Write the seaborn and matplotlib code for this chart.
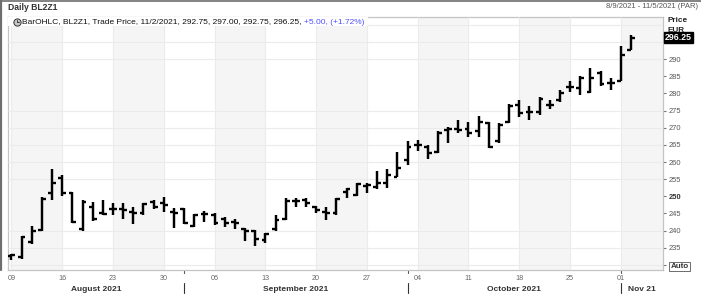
import numpy as np
import pandas as pd
import matplotlib
matplotlib.use("Agg")
import matplotlib.pyplot as plt
import seaborn as sns
from matplotlib.transforms import blended_transform_factory as btf
from matplotlib.lines import Line2D
from matplotlib.patches import Rectangle

# ---------------- data ----------------
dates = pd.bdate_range("2021-08-09", "2021-11-02")
opens = [232.5, 232.25, 236.75, 240.25, 251.0, 255.25, 251.0, 240.5, 247.0, 245.0,
         246.25, 246.25, 245.5, 245.0, 248.25, 248.0, 245.5, 246.25, 241.25, 244.75,
         244.5, 243.25, 242.5, 240.5, 239.75, 237.25, 240.5, 243.25, 248.5, 249.0,
         246.75, 245.5, 245.0, 251.25, 250.5, 253.0, 252.75, 254.0, 255.75, 260.5,
         265.0, 264.5, 263.0, 269.25, 269.5, 269.5, 269.0, 271.5, 266.0, 271.75,
         276.75, 274.5, 274.5, 276.75, 278.0, 282.0, 281.5, 280.5, 286.0, 283.0,
         283.75, 292.75]
highs = [233.25, 238.5, 241.25, 249.75, 258.0, 256.25, 251.25, 249.0, 248.25, 249.0,
         248.0, 248.0, 247.0, 248.0, 249.0, 249.75, 246.5, 246.5, 244.75, 245.75,
         245.0, 244.0, 243.25, 240.75, 240.25, 239.25, 244.5, 249.5, 249.5, 249.5,
         247.25, 246.75, 249.5, 252.5, 253.75, 253.75, 257.25, 258.0, 263.0, 266.0,
         266.5, 265.0, 269.0, 270.25, 272.25, 271.75, 273.5, 271.75, 271.25, 277.0,
         278.0, 276.25, 279.0, 278.0, 281.0, 283.5, 285.0, 287.5, 286.5, 284.5,
         293.75, 297.0]
lows = [231.5, 231.75, 236.0, 239.75, 249.0, 250.0, 242.25, 239.75, 242.75, 244.5,
        244.5, 243.25, 242.0, 244.5, 246.25, 245.5, 240.75, 242.0, 241.0, 242.5,
        241.5, 241.0, 240.5, 237.0, 235.5, 236.5, 240.0, 243.0, 246.75, 247.0,
        245.0, 243.0, 244.5, 249.5, 250.0, 251.0, 252.25, 252.5, 255.5, 259.0,
        263.25, 261.0, 262.5, 265.5, 268.5, 267.25, 267.25, 264.0, 265.5, 271.5,
        273.25, 272.25, 273.75, 275.5, 277.5, 280.5, 279.5, 280.0, 282.25, 281.0,
        283.5, 292.75]
closes = [232.75, 238.0, 240.0, 249.25, 254.0, 251.0, 242.5, 248.25, 243.5, 244.75,
          246.25, 246.0, 245.0, 247.75, 246.75, 247.5, 245.25, 242.25, 244.5, 244.75,
          242.25, 242.25, 242.25, 239.75, 237.5, 239.0, 243.0, 248.75, 248.5, 248.0,
          246.0, 245.25, 249.25, 252.25, 253.5, 253.25, 253.75, 256.25, 258.25, 264.5,
          265.0, 262.75, 268.5, 269.5, 269.25, 268.5, 271.75, 264.5, 270.75, 276.25,
          274.25, 274.5, 278.5, 276.75, 280.0, 282.0, 284.5, 284.5, 282.75, 283.0,
          291.25, 296.25]
y_ticks = [235, 240, 245, 250, 255, 260, 265, 270, 275, 280, 285, 290]
grid_levels = [230, 235, 240, 255, 260, 265, 270, 275, 290, 295, 300]
month_names = ["August 2021", "September 2021", "October 2021", "Nov 21"]
title = "Daily BL2Z1"
date_range = "8/9/2021 - 11/5/2021 (PAR)"
legend_main = "BarOHLC, BL2Z1, Trade Price, 11/2/2021, 292.75, 297.00, 292.75, 296.25, "
legend_chg = "+5.00, (+1.72%)"
last_price = 296.25

df = pd.DataFrame({"date": dates, "open": opens, "high": highs,
                   "low": lows, "close": closes})
df["idx"] = np.arange(len(df))

# ---------------- style ----------------
sns.set_theme(style="white")
plt.rcParams["font.family"] = ["Liberation Sans", "DejaVu Sans"]

W, H = 701, 308
def fx(px): return px / W
def fy(py): return 1 - py / H

fig = plt.figure(figsize=(W / 100, H / 100), dpi=100)
fig.patch.set_facecolor("white")
ax = fig.add_axes([fx(7.5), fy(270), fx(663.3) - fx(7.5), fy(16.7) - fy(270)])
ax.set_facecolor("white")

XMIN, XMAX = -0.39, 64.18
YMIN, YMAX = 228.5, 302.4

# week bands & grid
mondays = df.loc[df["date"].dt.dayofweek == 0, "idx"].tolist()
for k, m in enumerate(mondays):
    if k % 2 == 0:
        ax.axvspan(m, m + 5, color="#f5f5f5", lw=0, zorder=0)
    ax.axvline(m, color="#ebebeb", lw=0.8, zorder=0.5)
for lv in grid_levels:
    ax.axhline(lv, color="#ebebeb", lw=0.8, zorder=0.5)

# OHLC bars: high-low via seaborn lineplot (one unit per day)
hl = pd.concat([df[["idx"]].assign(price=df["low"]),
                df[["idx"]].assign(price=df["high"])]).sort_values("idx")
sns.lineplot(data=hl, x="idx", y="price", units="idx", estimator=None,
             color="black", linewidth=1.75, sort=False, legend=False, ax=ax)
for ln in ax.lines:
    ln.set_solid_capstyle("butt")
    ln.set_zorder(3)
tick_w = 0.38
ax.hlines(df["open"], df["idx"] - tick_w, df["idx"], color="black", lw=1.7, zorder=3)
ax.hlines(df["close"], df["idx"], df["idx"] + tick_w, color="black", lw=1.7, zorder=3)

ax.set_xlim(XMIN, XMAX)
ax.set_ylim(YMIN, YMAX)
ax.set_xlabel("")
ax.set_ylabel("")

# axes spines
for s in ["left", "top", "right", "bottom"]:
    ax.spines[s].set_visible(True)
    ax.spines[s].set_color("#c4c4c4")
    ax.spines[s].set_linewidth(0.9)

# x ticks
xlabels = [d.strftime("%d") for d in df.loc[df["idx"].isin(mondays), "date"]]
ax.set_xticks(mondays, labels=xlabels)
ax.tick_params(axis="x", length=0, labelsize=5.2, labelcolor="#666666", pad=3.5)

# y ticks on right
ax.yaxis.tick_right()
ax.set_yticks(y_ticks, labels=[str(v) for v in y_ticks])
ax.set_yticks([230, 295], minor=True)
ax.tick_params(axis="y", which="both", length=2.5, width=0.8, color="#777777",
               labelsize=5.4, labelcolor="#555555", pad=1.5, right=True, left=False)
for lbl in ax.get_yticklabels():
    if lbl.get_text() == "250":
        lbl.set_fontweight("bold")
        lbl.set_color("#333333")

# month labels and separators
tf = btf(ax.transData, fig.transFigure)
month_starts = df.loc[df["date"].dt.month != df["date"].shift(1).dt.month, "idx"].tolist()
bounds = [XMIN] + month_starts[1:] + [XMAX]
for k, name in enumerate(month_names):
    if k < len(month_names) - 1:
        cx = (bounds[k] + bounds[k + 1]) / 2
        fig.text(cx, fy(289.5), name, transform=tf, ha="center", va="center",
                 fontsize=6, fontweight="bold", color="#333333")
    else:
        fig.text(bounds[k] + 0.7, fy(289.5), name, transform=tf, ha="left",
                 va="center", fontsize=6, fontweight="bold", color="#333333")
for b in month_starts[1:]:
    fig.add_artist(Line2D([b, b], [fy(283), fy(293)], transform=tf,
                          color="#333333", lw=0.8))
    fig.add_artist(Line2D([b, b], [fy(270.5), fy(273)], transform=tf,
                          color="#555555", lw=0.8))

# header
fig.text(fx(8), fy(7.5), title, ha="left", va="center", fontsize=6.2,
         fontweight="bold", color="#333333")
fig.text(fx(697.5), fy(6.5), date_range, ha="right", va="center", fontsize=5.5,
         color="#555555")

# borders
fig.add_artist(Line2D([0, 1], [fy(0.6), fy(0.6)], color="#6e6e6e", lw=1.2))
fig.add_artist(Line2D([fx(1), fx(1)], [fy(0), fy(270)], color="#6e6e6e", lw=1.6))

# legend row
t1 = fig.text(fx(22.5), fy(22), legend_main, ha="left", va="center",
              fontsize=6.0, color="#111111", zorder=6)
fig.canvas.draw()
r = fig.canvas.get_renderer()
bb = t1.get_window_extent(r)
t2 = fig.text(bb.x1 / W, fy(22), legend_chg, ha="left", va="center",
              fontsize=6.0, color="#4f4fff", zorder=6)
bb2 = t2.get_window_extent(r)
fig.add_artist(Rectangle((fx(8), fy(26)), bb2.x1 / W + fx(3) - fx(8), fy(17.2) - fy(26),
                         transform=fig.transFigure, fc="white", ec="none", zorder=5))
fig.add_artist(Line2D([fx(17)], [fy(22)], marker="o", ms=5.2, mfc="#c8c8c8",
                      mec="#333333", mew=0.7, zorder=7))
fig.add_artist(Line2D([fx(17), fx(17), fx(19)], [fy(19.8), fy(22), fy(22)],
                      color="#222222", lw=0.6, zorder=8))

# right panel labels
fig.text(fx(667), fy(20), "Price", ha="left", va="center", fontsize=5.9,
         fontweight="bold", color="#222222")
fig.text(fx(667), fy(30.5), "EUR", ha="left", va="center", fontsize=5.9,
         fontweight="bold", color="#222222")
ax.text(1 + 1.6 / 655.8, last_price, f"{last_price:.2f}",
        transform=btf(ax.transAxes, ax.transData), ha="left", va="center",
        fontsize=6.3, fontweight="bold", color="white", zorder=10, clip_on=False,
        bbox=dict(boxstyle="square,pad=0.12", fc="black", ec="black"))
fig.text(fx(670.5), fy(266.5), "Auto", ha="left", va="center", fontsize=5.8,
         fontweight="bold", color="#333333",
         bbox=dict(boxstyle="square,pad=0.15", fc="white", ec="#555555", lw=0.6))

fig.savefig("out.png", dpi=100, facecolor="white")
